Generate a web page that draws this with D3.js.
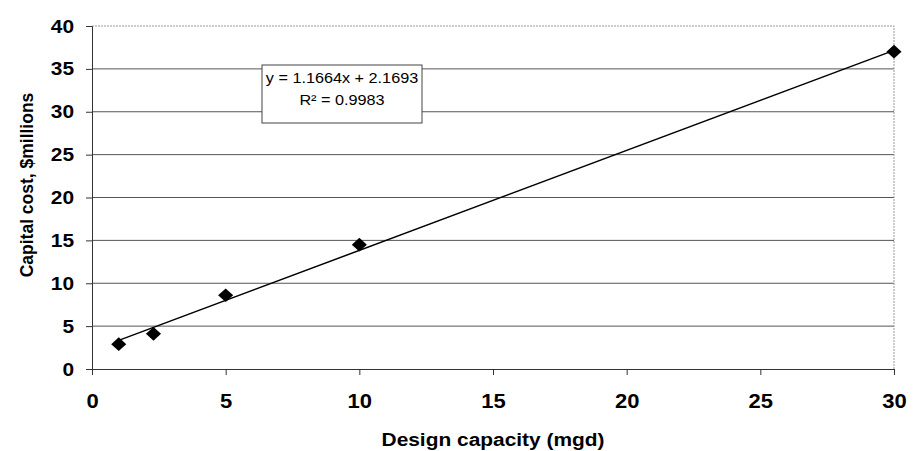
<!DOCTYPE html>
<html>
<head>
<meta charset="utf-8">
<script src="https://cdn.jsdelivr.net/npm/d3@7"></script>
<style>
  body { margin: 0; background: #fff; }
  text { font-family: Arial, "Liberation Sans", sans-serif; }
</style>
</head>
<body>
<div id="chart"></div>
<script>
// data
const capacity = [1, 2.3, 5, 10, 30];
const cost = [2.9, 4.1, 8.6, 14.5, 37];
const xTicks = [0, 5, 10, 15, 20, 25, 30];
const yTicks = [0, 5, 10, 15, 20, 25, 30, 35, 40];
const slope = 1.1664, intercept = 2.1693;
const eqLines = ['y = 1.1664x + 2.1693', 'R² = 0.9983'];

const width = 922, height = 451;
const stretch = 1.1; // the scanned picture is a bit wider than tall
const svg = d3.select('#chart').append('svg')
    .attr('width', width).attr('height', height);

const x = d3.scaleLinear().domain([0, 30]).range([92, 894]);
const y = d3.scaleLinear().domain([0, 40]).range([369, 26]);

// gridlines
svg.append('g').selectAll('line')
    .data(yTicks.filter(d => d > 0 && d < 40))
    .enter().append('line')
    .attr('x1', x(0)).attr('x2', x(30))
    .attr('y1', d => y(d)).attr('y2', d => y(d))
    .attr('stroke', '#555').attr('stroke-width', 1);

// plot frame top / right (light dotted)
svg.append('path')
    .attr('d', `M${x(0)},${y(40)}H${x(30)}V${y(0)}`)
    .attr('fill', 'none').attr('stroke', '#999')
    .attr('stroke-dasharray', '2,1');

// axes
const xAxis = svg.append('g')
    .attr('transform', `translate(0,${y(0)})`)
    .call(d3.axisBottom(x).tickValues(xTicks).tickSize(6).tickPadding(19));
const yAxis = svg.append('g')
    .attr('transform', `translate(${x(0)},0)`)
    .call(d3.axisLeft(y).tickValues(yTicks).tickSize(6));

[xAxis, yAxis].forEach(g => {
  g.select('.domain').attr('stroke', '#333');
  g.selectAll('.tick line').attr('stroke', '#333');
  g.selectAll('text')
    .attr('font-weight', 'bold')
    .attr('fill', '#000')
    .attr('transform', `scale(${stretch},1)`)
    .style('font-family', 'Arial, "Liberation Sans", sans-serif');
});
xAxis.selectAll('text').attr('font-size', 20);
yAxis.selectAll('text').attr('font-size', 19).attr('x', -18 / stretch);

// trend line
svg.append('line')
    .attr('x1', x(capacity[0])).attr('y1', y(slope * capacity[0] + intercept))
    .attr('x2', x(capacity[capacity.length - 1]))
    .attr('y2', y(slope * capacity[capacity.length - 1] + intercept))
    .attr('stroke', '#000').attr('stroke-width', 1.5);

// markers
svg.append('g').selectAll('path')
    .data(capacity.map((c, i) => [c, cost[i]]))
    .enter().append('path')
    .attr('d', d3.symbol().type(d3.symbolDiamond2).size(120))
    .attr('transform', d => `translate(${x(d[0])},${y(d[1])}) scale(${stretch},1)`)
    .attr('fill', '#000');

// equation box
svg.append('rect')
    .attr('x', 262).attr('y', 65).attr('width', 160).attr('height', 58)
    .attr('fill', '#fff').attr('stroke', '#444');
svg.append('g').selectAll('text')
    .data(eqLines)
    .enter().append('text')
    .attr('transform', (d, i) => `translate(342,${83 + i * 22}) scale(1.12,1)`)
    .attr('text-anchor', 'middle')
    .attr('font-size', 14.5)
    .text(d => d);

// axis titles
svg.append('text')
    .attr('transform', `translate(493,446) scale(${stretch},1)`)
    .attr('text-anchor', 'middle')
    .attr('font-size', 19).attr('font-weight', 'bold')
    .text('Design capacity (mgd)');
svg.append('text')
    .attr('transform', `translate(33,185) scale(${stretch},1) rotate(-90)`)
    .attr('text-anchor', 'middle')
    .attr('font-size', 17.5).attr('font-weight', 'bold')
    .text('Capital cost, $millions');
</script>
</body>
</html>
